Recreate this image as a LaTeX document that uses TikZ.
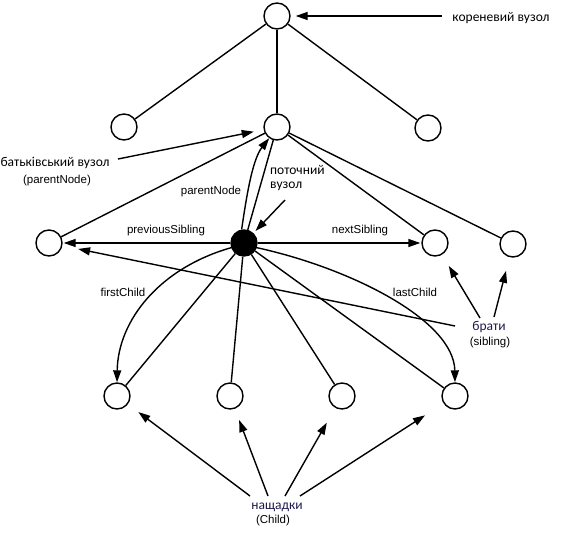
\documentclass[tikz,border=0pt]{standalone}
\usepackage{fontspec}
\setmainfont{Liberation Sans}
\newfontfamily\cyr{Carlito}
\usetikzlibrary{arrows.meta}
\definecolor{navytext}{RGB}{30,25,75}
\tikzset{
  vert/.style={circle,draw,line width=1.4pt,minimum size=26pt,inner sep=0pt},
  cur/.style={vert,fill=black},
  edge/.style={line width=1.4pt},
  arr/.style={line width=1.4pt,-{Triangle[length=12pt,width=8pt]}},
  en/.style={font=\fontsize{11.5}{13}\selectfont,inner sep=0pt,align=center},
  ua/.style={font=\cyr\fontsize{13.5}{15}\selectfont,inner sep=0pt,align=left},
}
\begin{document}
\begin{tikzpicture}[x=1pt,y=-1pt]
\useasboundingbox (0,0) rectangle (585,548);
% vertices
\node[vert] (root) at (277,16) {};
\node[vert] (l2a) at (124,127) {};
\node[vert] (par) at (277,127) {};
\node[vert] (l2c) at (428,128) {};
\node[vert] (prev) at (49,243) {};
\node[cur] (cur) at (244,243) {};
\node[vert] (next) at (435,243) {};
\node[vert] (sib2) at (513,244) {};
\node[vert] (c1) at (117,396) {};
\node[vert] (c2) at (230,396) {};
\node[vert] (c3) at (342,396) {};
\node[vert] (c4) at (455,396) {};
% tree edges
\draw[edge] (root) -- (l2a);
\draw[edge] (root) -- (par);
\draw[edge] (root) -- (l2c);
\draw[edge] (par) -- (prev);
\draw[edge] (par) -- (cur);
\draw[edge] (par) -- (next);
\draw[edge] (par) -- (sib2);
\draw[edge] (cur) -- (c1);
\draw[edge] (cur) -- (c2);
\draw[edge] (cur) -- (c3);
\draw[edge] (cur) -- (c4);
% navigation arrows
\draw[arr,shorten >=1pt] (cur) -- (prev);
\draw[arr,shorten >=1pt] (cur) -- (next);
\draw[arr] (cur.100) .. controls (246,200) and (252,160) .. (par.235);
\draw[arr] (cur.200) .. controls (160,268) and (118,320) .. (c1.north);
\draw[arr] (cur.340) .. controls (350,268) and (454,320) .. (c4.north);
% labels
\node[ua] (rootlbl) at (501,18) {кореневий вузол};
\node[ua,anchor=center] (parlbl) at (55,163) {батьківський вузол};
\node[en] (parlbl2) at (57,181) {(parentNode)};
\node[en] (pnlbl) at (211,192) {parentNode};
\node[ua,anchor=north west] (curlbl) at (270,165) {поточний\\[-1pt]вузол};
\node[en] (pslbl) at (166,231) {previousSibling};
\node[en] (nslbl) at (360,231) {nextSibling};
\node[en] (fclbl) at (123,292) {firstChild};
\node[en] (lclbl) at (415,292) {lastChild};
\node[ua,text=navytext] (siblbl) at (489,327) {брати};
\node[en] (siblbl2) at (490,343) {(sibling)};
\node[ua,text=navytext] (chlbl) at (277,507) {нащадки};
\node[en] (chlbl2) at (273,521) {(Child)};
% label arrow start points
\coordinate (sRoot) at (442,16);
\coordinate (sPar) at (118,159);
\coordinate (sCur) at (285,200);
\coordinate (sSibA) at (455,326);
\coordinate (sSibB) at (480,318);
\coordinate (sSibC) at (494,317);
\coordinate (sCh1) at (250,496);
\coordinate (sCh2) at (268,496);
\coordinate (sCh3) at (285,496);
\coordinate (sCh4) at (300,496);
% label arrows
\draw[arr,shorten >=5pt] (sRoot) -- (root);
\draw[arr,shorten >=10pt] (sPar) -- (par);
\draw[arr,shorten >=3pt] (sCur) -- (cur);
\draw[arr,shorten >=16pt] (sSibA) -- (prev);
\draw[arr,shorten >=13pt] (sSibB) -- (next);
\draw[arr,shorten >=14pt] (sSibC) -- (sib2);
\draw[arr,shorten >=13pt] (sCh1) -- (c1);
\draw[arr,shorten >=12pt] (sCh2) -- (c2);
\draw[arr,shorten >=17pt] (sCh3) -- (c3);
\draw[arr,shorten >=22pt] (sCh4) -- (c4);
\end{tikzpicture}
\end{document}
